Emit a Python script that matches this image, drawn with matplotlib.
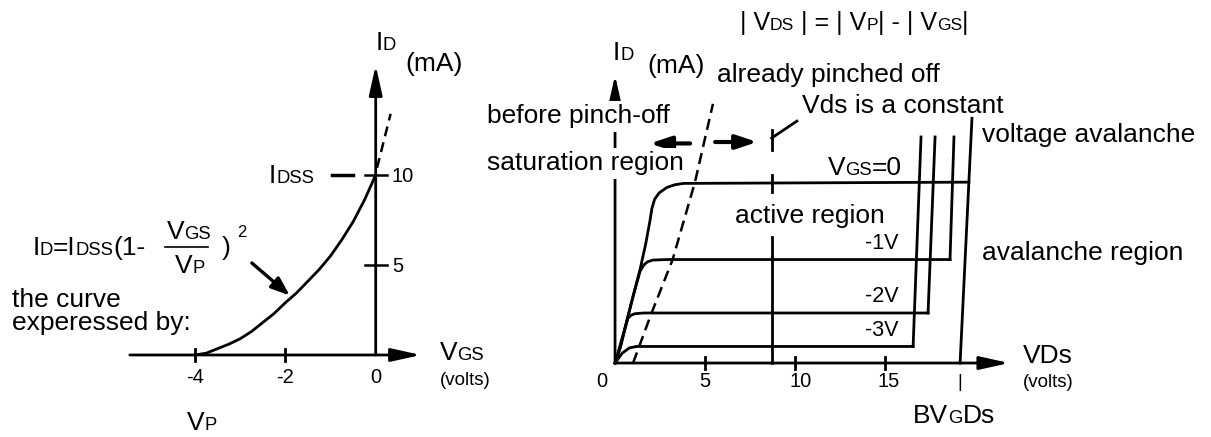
import numpy as np
import matplotlib
matplotlib.use('Agg')
import matplotlib.pyplot as plt

plt.rcParams['font.family'] = ['Liberation Sans', 'DejaVu Sans']

# ---- left panel: transfer curve ID vs VGS ----
vgs_pts = [-4.0, -3.75, -3.5, -3.25, -3.0, -2.75, -2.5, -2.25, -2.0,
           -1.75, -1.5, -1.25, -1.0, -0.75, -0.5, -0.25, 0.0]
id_pts = [0.0, 0.1, 0.35, 0.6, 0.9, 1.3, 1.8, 2.3, 2.9,
          3.45, 4.1, 4.75, 5.5, 6.4, 7.4, 8.6, 10.0]
ext_vgs = [0.03, 0.33]          # dashed continuation above IDSS
ext_id = [10.4, 13.4]
left_xticks = [-4, -2, 0]
left_yticks = [5, 10]
idss = 10

# ---- right panel: output curves ID vs VDS ----
gate_labels = ['0', '-1V', '-2V', '-3V']
knee_vds = [
    [0, 0.3, 0.67, 1.0, 1.39, 1.7, 1.94, 2.05, 2.2, 2.45, 2.87, 3.3, 3.8],
    [0, 0.3, 0.67, 1.0, 1.39, 1.6, 1.8, 2.1, 2.9],
    [0, 0.37, 0.72, 0.9, 1.1, 1.6],
    [0, 0.4, 0.8, 1.2],
]
knee_id = [
    [0, 0.9, 2.4, 3.7, 5.2, 6.6, 7.9, 8.6, 9.1, 9.45, 9.75, 9.9, 9.98],
    [0, 0.9, 2.4, 3.7, 5.1, 5.45, 5.62, 5.72, 5.75],
    [0, 1.3, 2.5, 2.66, 2.74, 2.78],
    [0, 0.55, 0.84, 0.92],
]
sat_id = [10.05, 5.75, 2.78, 0.92]
bd_x0 = [19.17, 18.61, 17.39, 16.56]   # avalanche lines, bottom end
bd_y0 = [0.0, 5.75, 2.78, 0.92]
bd_x1 = [19.83, 18.83, 17.78, 17.0]    # top end
bd_y1 = [13.6, 12.56, 12.56, 12.56]
pinch_vds = [1.0, 2.0, 3.2, 4.44, 5.44]
pinch_id = [0.0, 2.7, 5.75, 10.05, 14.4]
vds_const = 8.7
right_xticks = [5, 10, 15]
right_ticklabels = ['0', '5', '10', '15']
bvgds = 19.17

K = 'black'
FS = 19
SMALL = 0.7


def rich(ax, x, y, parts, fs=FS, **kw):
    """Write text pieces one after another; pieces flagged True are small caps."""
    t = None
    for s, small in parts:
        size = fs * (SMALL if small else 1.0)
        if t is None:
            t = ax.text(x, y, s, fontsize=size, va='baseline', ha='left', **kw)
        else:
            t = ax.annotate(s, xy=(1, y), xycoords=(t, 'data'), fontsize=size,
                            va='baseline', ha='left', **kw)
    return t


def arrow(ax, tail, head, lw=2.0, hl=0.9, hw=0.2, ms=20):
    ax.annotate('', xy=head, xytext=tail,
                arrowprops=dict(arrowstyle=f'-|>,head_length={hl},head_width={hw}',
                                lw=lw, color=K, mutation_scale=ms,
                                shrinkA=0, shrinkB=0))


fig = plt.figure(figsize=(12.11, 4.37), dpi=100)
axl = fig.add_axes([0, 0, 1, 1])
axl.set_xlim(-8.312, 18.48)
axl.set_ylim(-4.556, 19.72)
axl.axis('off')
axr = fig.add_axes([0, 0, 1, 1])
axr.set_xlim(-34.17, 33.11)
axr.set_ylim(-4.11, 20.17)
axr.axis('off')

# left axes
arrow(axl, (-5.44, 0), (1.0, 0))
arrow(axl, (0, 0), (0, 16.1))
for v in left_xticks[:-1]:
    axl.plot([v, v], [-0.35, 0.35], color=K, lw=2)
for i in left_yticks:
    axl.plot([-0.24, 0.24], [i, i], color=K, lw=1.8)
axl.plot([-0.97, -0.5], [idss, idss], color=K, lw=2.5)
axl.plot(vgs_pts, id_pts, color=K, lw=2)
axl.plot(ext_vgs, ext_id, color=K, lw=1.8, dashes=(4, 2.5))
arrow(axl, (-2.74, 5.11), (-1.9, 3.3), lw=2.4, hl=0.8, hw=0.3, ms=14)

for v in left_xticks:
    axl.text(v, -1.56, str(v), fontsize=14.5, ha='center', va='baseline')
for i in left_yticks:
    axl.text(0.36, i - 0.4, str(i), fontsize=14.5, ha='left', va='baseline')

rich(axl, 0.0, 16.94, [('I', False), ('D', True)])
axl.text(0.65, 15.8, '(mA)', fontsize=FS, va='baseline')
rich(axl, -2.36, 9.56, [('I', False), ('DSS', True)])
rich(axl, 1.42, -0.28, [('V', False), ('GS', True)])
axl.text(1.42, -1.67, '(volts)', fontsize=13.5, va='baseline')
rich(axl, -4.17, -4.17, [('V', False), ('P', True)])

rich(axl, -7.6, 5.56, [('I', False), ('D', True), ('=I', False), ('DSS', True), ('(1-', False)])
rich(axl, -4.62, 6.44, [('V', False), ('GS', True)])
axl.plot([-4.66, -3.72], [6.0, 6.0], color=K, lw=1.2)
rich(axl, -4.44, 4.56, [('V', False), ('P', True)])
axl.text(-3.4, 5.56, ')', fontsize=FS, va='baseline')
axl.text(-3.07, 6.56, '2', fontsize=12, va='baseline')
axl.text(-8.05, 2.67, 'the curve', fontsize=FS, va='baseline')
axl.text(-8.05, 1.39, 'experessed by:', fontsize=FS, va='baseline')

# right axes
arrow(axr, (0, 0), (21.9, 0))
arrow(axr, (0, 0), (0, 16.0))
for v in right_xticks:
    axr.plot([v, v], [-0.35, 0.35], color=K, lw=2)

for xs, ys, lvl, x0, y0, x1, y1 in zip(knee_vds, knee_id, sat_id, bd_x0, bd_y0, bd_x1, bd_y1):
    # flat part ends where it meets its avalanche line
    x_end = np.interp(lvl, [y0, y1], [x0, x1])
    axr.plot(list(xs) + [x_end], list(ys) + [lvl], color=K, lw=2)
    axr.plot([x0, x1], [y0, y1], color=K, lw=2)

axr.plot(pinch_vds, pinch_id, color=K, lw=1.8, dashes=(4.5, 2.5))

# constant-Vds marker
axr.plot([vds_const, vds_const], [0, 7.0], color=K, lw=2)
axr.plot([vds_const, vds_const], [sat_id[0] - 0.55, sat_id[0] + 0.4], color=K, lw=2)
axr.plot([vds_const, vds_const], [11.83, 12.94], color=K, lw=2)
axr.plot([vds_const, 10.1], [12.5, 13.44], color=K, lw=2)

arrow(axr, (4.17, 12.2), (1.94, 12.2), lw=3, hl=0.9, hw=0.3, ms=14)
arrow(axr, (5.56, 12.28), (7.9, 12.28), lw=3, hl=0.9, hw=0.3, ms=14)

tick_x = [-0.72, 5.0, 10.3, 15.2]
for x, s in zip(tick_x, right_ticklabels):
    axr.text(x, -1.33, s, fontsize=14.5, ha='center', va='baseline')
axr.text(bvgds, -1.33, '|', fontsize=13, ha='center', va='baseline')

mask = dict(fc='white', ec='none', pad=2.5)
rich(axr, 6.94, 18.5, [('| V', False), ('DS', True), (' | = | V', False), ('P', True),
                       ('| - | V', False), ('GS', True), ('|', False)], fs=18)
rich(axr, -0.12, 16.83, [('I', False), ('D', True)])
axr.text(1.78, 16.1, '(mA)', fontsize=FS, va='baseline')
axr.text(5.67, 15.6, 'already pinched off', fontsize=FS, va='baseline')
axr.text(10.39, 13.9, 'Vds is a constant', fontsize=FS, va='baseline')
axr.text(-7.11, 13.33, 'before pinch-off', fontsize=FS, va='baseline', bbox=mask, zorder=5)
axr.text(-7.11, 10.72, 'saturation region', fontsize=FS, va='baseline', bbox=mask, zorder=5)
axr.text(20.39, 12.28, 'voltage avalanche', fontsize=FS, va='baseline')
rich(axr, 11.83, 10.44, [('V', False), ('GS', True), ('=0', False)])
axr.text(6.67, 7.78, 'active region', fontsize=FS, va='baseline')
axr.text(20.39, 5.72, 'avalanche region', fontsize=FS, va='baseline')
for lab, lvl in zip(gate_labels[1:], sat_id[1:]):
    axr.text(15.75, lvl + 0.6, lab, fontsize=15.5, ha='right', va='baseline')
axr.text(22.67, 0.0, 'VDs', fontsize=FS, va='baseline')
axr.text(22.67, -1.33, '(volts)', fontsize=13.5, va='baseline')
rich(axr, 16.56, -3.33, [('BV', False), ('G', True), ('Ds', False)])

fig.savefig('out.png', dpi=100)
